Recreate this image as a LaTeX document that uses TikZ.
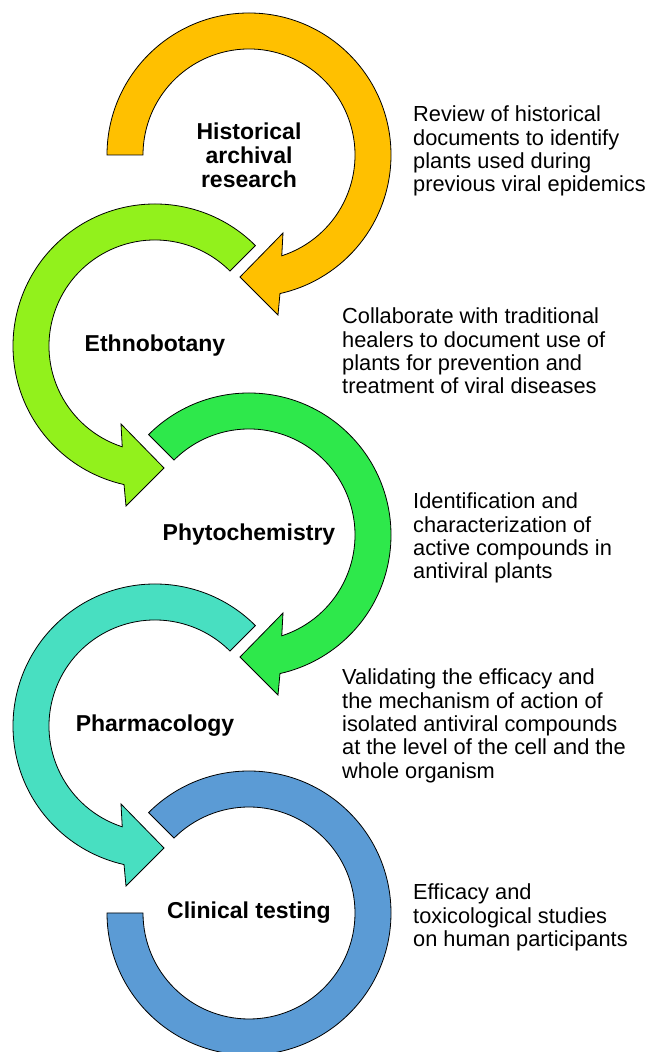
\documentclass[tikz,border=0pt]{standalone}
\usepackage{fontspec}
\setmainfont{Liberation Sans}
\usepackage{tikz}

\definecolor{archival}{HTML}{FFC000}
\definecolor{ethno}{HTML}{92F11C}
\definecolor{phyto}{HTML}{2EE84B}
\definecolor{pharma}{HTML}{48DFC1}
\definecolor{clinic}{HTML}{5B9BD5}

% ring arrow: [style](centre)(start angle:xscale), head at the bottom
\def\ringarrow[#1](#2)(#3:#4){\draw[#1, shift={(#2)}, xscale=#4] (#3:106) -- (#3:142) arc[start angle=#3, end angle=-77.4, radius=142] -- (29,-160) -- (-9,-122) -- (34,-78) -- (-72:106) arc[start angle=-72, end angle=#3, radius=106] -- cycle;}

\tikzset{
	ring/.style={draw=black, line width=0.8pt, line join=miter},
	stage/.style={font=\fontsize{23}{24}\selectfont\bfseries, align=center, inner sep=0pt},
	note/.style={font=\fontsize{21.8}{23.3}\selectfont, align=left, anchor=north west, inner sep=0pt}
}

\begin{document}
\begin{tikzpicture}[x=1pt, y=1pt]
			%%%%% START %%%%%
			\useasboundingbox[fill=white] (0, 0) rectangle (649, 1052);
			
			\ringarrow[ring, fill=archival](249, 897)(180:1);
			\ringarrow[ring, fill=ethno](155, 706)(135:-1);
			\ringarrow[ring, fill=phyto](249, 517)(135:1);
			\ringarrow[ring, fill=pharma](155, 326)(135:-1);
			
			% last ring has no head
			\draw[ring, fill=clinic, shift={(249, 139)}] (135:106) -- (135:142) arc[start angle=135, end angle=-180, radius=142] -- (-180:106) arc[start angle=-180, end angle=135, radius=106] -- cycle;
			
			\node[stage] (historical) at (249, 897) {Historical\\archival\\research};
			\node[stage] (ethnobotany) at (155, 706) {Ethnobotany};
			\node[stage] (phytochemistry) at (249, 517) {Phytochemistry};
			\node[stage] (pharmacology) at (155, 326) {Pharmacology};
			\node[stage] (clinical) at (249, 139) {Clinical testing};
			
			\node[note] (historicalnote) at (413, 946) {Review of historical\\documents to identify\\plants used during\\previous viral epidemics};
			\node[note] (ethnobotanynote) at (342, 744) {Collaborate with traditional\\healers to document use of\\plants for prevention and\\treatment of viral diseases};
			\node[note] (phytochemistrynote) at (413, 559) {Identification and\\characterization of\\active compounds in\\antiviral plants};
			\node[note] (pharmacologynote) at (342, 383) {Validating the efficacy and\\the mechanism of action of\\isolated antiviral compounds\\at the level of the cell and the\\whole organism};
			\node[note] (clinicalnote) at (413, 168) {Efficacy and\\toxicological studies\\on human participants};
			
			%%%%% END %%%%%
\end{tikzpicture}
\end{document}
